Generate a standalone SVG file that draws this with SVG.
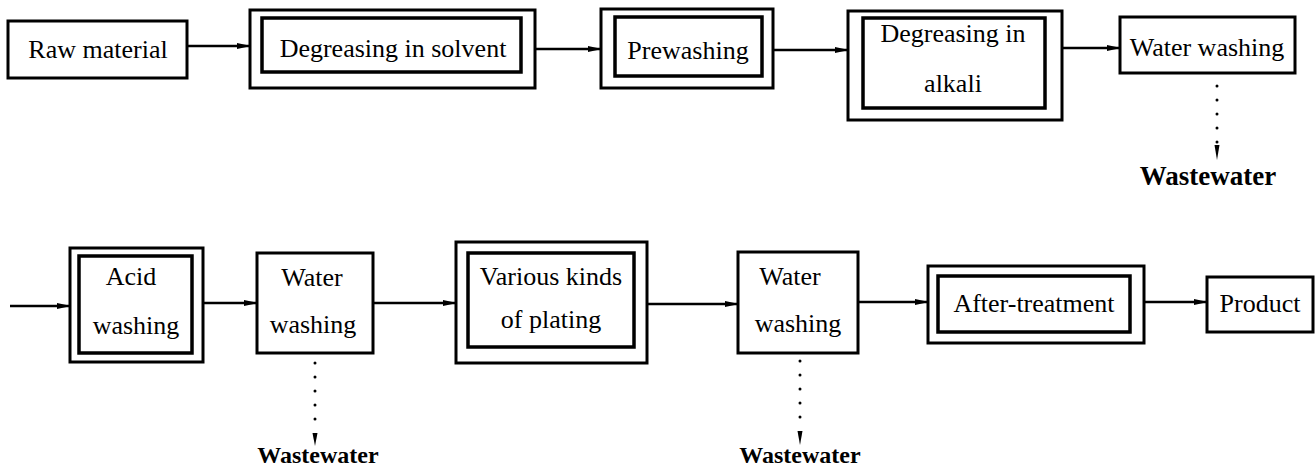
<svg xmlns="http://www.w3.org/2000/svg" width="1316" height="469" viewBox="0 0 1316 469">
<style>
.box{fill:none;stroke:#000;stroke-width:3}
.inner{fill:none;stroke:#000;stroke-width:3.5}
text{font-family:"Liberation Serif","Times New Roman",serif;fill:#000;text-anchor:middle}
.t{font-size:26px}
.w{font-weight:bold}
.arr{fill:none;stroke:#000;stroke-width:2.5;marker-end:url(#ah)}
.dot{fill:none;stroke:#000;stroke-width:3;stroke-linecap:round;stroke-dasharray:0 14}
</style>
<defs>
<marker id="ah" markerWidth="14" markerHeight="8" refX="13" refY="4" orient="auto" markerUnits="userSpaceOnUse">
<path d="M0,1 L14,4 L0,7 Z" fill="#000"/>
</marker>
</defs>
<rect width="1316" height="469" fill="#fff"/>

<g id="connectors">
<line class="arr" x1="187" y1="46" x2="250" y2="46"/>
<line class="arr" x1="535" y1="49" x2="601" y2="49"/>
<line class="arr" x1="773" y1="50" x2="848" y2="50"/>
<line class="arr" x1="1062" y1="48" x2="1120" y2="48"/>
<line class="arr" x1="10" y1="306" x2="70" y2="306"/>
<line class="arr" x1="203" y1="303" x2="257" y2="303"/>
<line class="arr" x1="373" y1="303" x2="456" y2="303"/>
<line class="arr" x1="647" y1="304" x2="738" y2="304"/>
<line class="arr" x1="858" y1="302" x2="928" y2="302"/>
<line class="arr" x1="1144" y1="302" x2="1207" y2="302"/>
<line class="dot" x1="1217" y1="86" x2="1217" y2="145"/>
<path d="M1214.5,145 L1217,160 L1219.5,145 Z" fill="#000"/>
<line class="dot" x1="315" y1="363" x2="315" y2="433"/>
<path d="M312.5,433 L315,446 L317.5,433 Z" fill="#000"/>
<line class="dot" x1="800" y1="361" x2="800" y2="431"/>
<path d="M797.5,431 L800,445 L802.5,431 Z" fill="#000"/>
</g>

<g id="raw-material">
<rect class="box" x="8" y="21" width="179" height="57"/>
<text class="t" x="98" y="58" font-family="Liberation Serif">Raw material</text>
</g>

<g id="degreasing-solvent">
<rect class="box" x="250" y="10" width="285" height="78"/>
<rect class="inner" x="262" y="18" width="259" height="54"/>
<text class="t" x="393" y="57" font-family="Liberation Serif">Degreasing in solvent</text>
</g>

<g id="prewashing">
<rect class="box" x="601" y="9" width="172" height="79"/>
<rect class="inner" x="615" y="17" width="147" height="59"/>
<text class="t" x="688" y="59" font-family="Liberation Serif">Prewashing</text>
</g>

<g id="degreasing-alkali">
<rect class="box" x="848" y="11" width="214" height="109"/>
<rect class="inner" x="863" y="18" width="182" height="90"/>
<text class="t" x="953" y="42" font-family="Liberation Serif">Degreasing in</text>
<text class="t" x="953" y="92" font-family="Liberation Serif">alkali</text>
</g>

<g id="water-washing-1">
<rect class="box" x="1120" y="17" width="175" height="56"/>
<text class="t" x="1207" y="56" font-family="Liberation Serif">Water washing</text>
</g>

<g id="wastewater-1">
<text class="w" x="1208" y="185" font-size="27" font-family="Liberation Serif">Wastewater</text>
</g>

<g id="acid-washing">
<rect class="box" x="70" y="248" width="133" height="114"/>
<rect class="inner" x="79" y="256" width="113" height="97"/>
<text class="t" x="131" y="285" font-family="Liberation Serif">Acid</text>
<text class="t" x="136" y="334" font-family="Liberation Serif">washing</text>
</g>

<g id="water-washing-2">
<rect class="box" x="257" y="253" width="116" height="100"/>
<text class="t" x="312" y="286" font-family="Liberation Serif">Water</text>
<text class="t" x="313" y="333" font-family="Liberation Serif">washing</text>
</g>

<g id="wastewater-2">
<text class="w" x="318" y="463" font-size="24" font-family="Liberation Serif">Wastewater</text>
</g>

<g id="plating">
<rect class="box" x="456" y="242" width="191" height="121"/>
<rect class="inner" x="468" y="253" width="166" height="94"/>
<text class="t" x="551" y="285" font-family="Liberation Serif">Various kinds</text>
<text class="t" x="551" y="328" font-family="Liberation Serif">of plating</text>
</g>

<g id="water-washing-3">
<rect class="box" x="738" y="252" width="120" height="101"/>
<text class="t" x="790" y="285" font-family="Liberation Serif">Water</text>
<text class="t" x="798" y="332" font-family="Liberation Serif">washing</text>
</g>

<g id="wastewater-3">
<text class="w" x="800" y="463" font-size="24" font-family="Liberation Serif">Wastewater</text>
</g>

<g id="after-treatment">
<rect class="box" x="928" y="266" width="216" height="77"/>
<rect class="inner" x="938" y="276" width="192" height="56"/>
<text class="t" x="1034" y="312" font-family="Liberation Serif">After-treatment</text>
</g>

<g id="product">
<rect class="box" x="1207" y="277" width="106" height="55"/>
<text class="t" x="1260" y="312" font-family="Liberation Serif">Product</text>
</g>
</svg>
